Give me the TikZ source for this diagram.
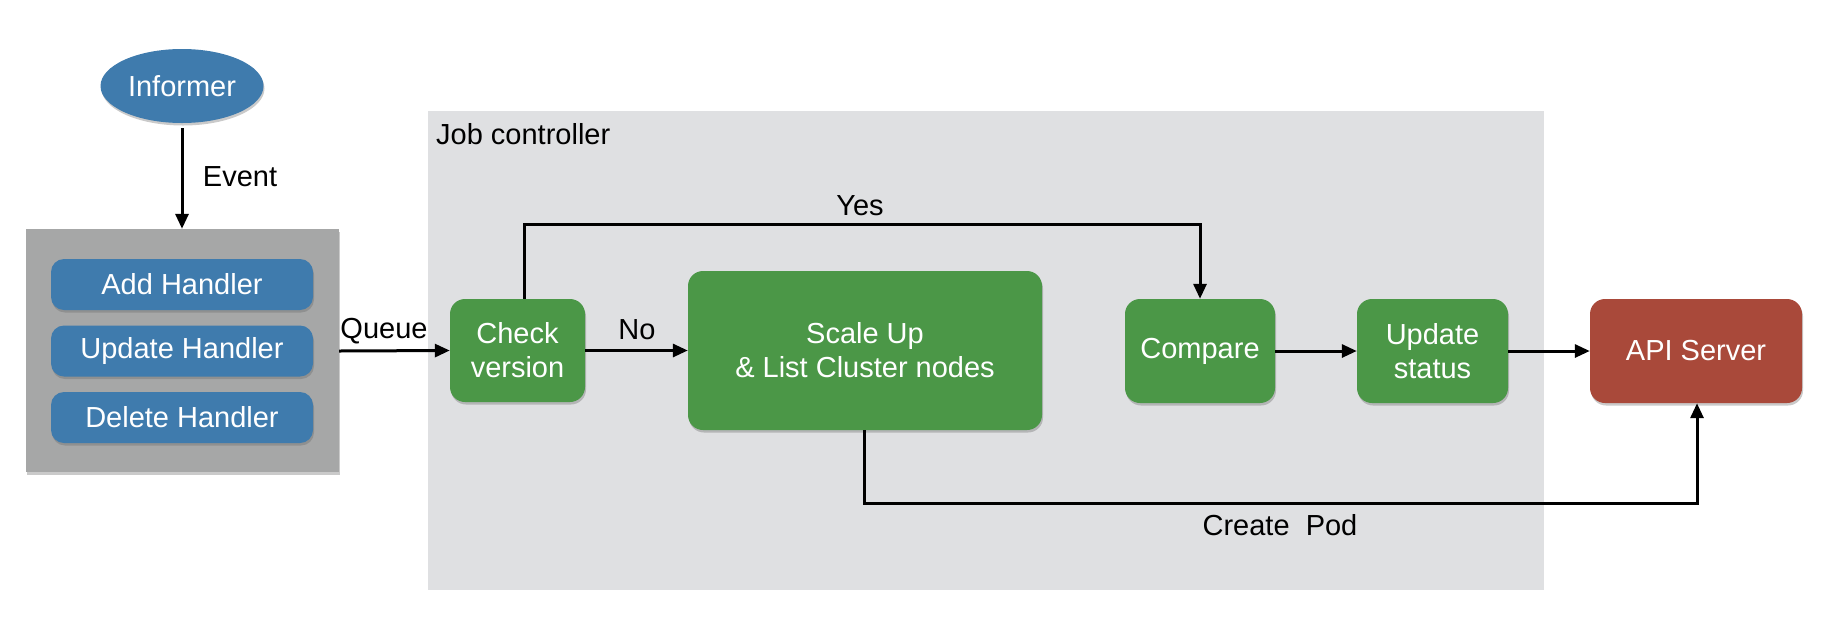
\documentclass[tikz,border=0pt]{standalone}
\usepackage{fontspec}
\setmainfont{Liberation Sans}
\usetikzlibrary{arrows.meta,shapes.geometric,shadows}
\definecolor{infblue}{HTML}{3F7BAD}
\definecolor{boxgreen}{HTML}{4B9747}
\definecolor{apired}{HTML}{A9493A}
\definecolor{outergray}{HTML}{A6A7A7}
\definecolor{jobgray}{HTML}{DFE0E2}
\tikzset{
  txt/.style={font=\fontsize{29}{34}\selectfont},
  shad/.style={drop shadow={shadow xshift=1pt,shadow yshift=-2.5pt,opacity=0.35,fill=black!60}},
  handler/.style={txt,draw=none,fill=infblue,text=white,rounded corners=13pt,minimum width=262pt,minimum height=51pt,inner sep=0pt,shad},
  greenbox/.style={txt,draw=none,fill=boxgreen,text=white,rounded corners=15pt,inner sep=0pt,align=center,shad},
  conn/.style={line width=3pt,-{Triangle[length=15pt,width=13pt]}},
  lab/.style={txt,text=black,inner sep=0pt},
}
\begin{document}
\begin{tikzpicture}[x=1pt,y=-1pt]
\useasboundingbox (0,0) rectangle (1822,622);
% job controller background
\node[fill=jobgray,draw=none,minimum width=1116pt,minimum height=479pt,inner sep=0pt,anchor=north west] (job) at (428,111) {};
\node[lab,anchor=west] (joblab) at (436,134) {Job controller};
% informer
\node[ellipse,txt,fill=infblue,text=white,minimum width=163pt,minimum height=74pt,inner sep=0pt,shad] (inf) at (182,86) {Informer};
% outer gray box
\node[fill=outergray,draw=none,minimum width=313pt,minimum height=243pt,inner sep=0pt,shad] (hbox) at (182.5,350.5) {};
\node[handler] (add) at (182,284.5) {Add Handler};
\node[handler] (upd) at (182,351) {Update Handler};
\node[handler] (del) at (182,417.5) {Delete Handler};
% green boxes
\node[greenbox,minimum width=135pt,minimum height=103pt] (check) at (517.5,350.5) {Check\\version};
\node[greenbox,minimum width=354pt,minimum height=159pt] (scale) at (865,350.5) {Scale Up\\\& List Cluster nodes};
\node[greenbox,minimum width=150pt,minimum height=104pt] (cmp) at (1200,351) {Compare};
\node[greenbox,minimum width=151pt,minimum height=104pt] (ust) at (1432.5,351) {Update\\status};
\node[greenbox,fill=apired,minimum width=212pt,minimum height=104pt] (api) at (1696,351) {API Server};
% coordinates for routing
\coordinate (yesl) at (524,224);
\coordinate (yesr) at (1200,224);
\coordinate (podl) at (864,503);
\coordinate (podr) at (1697,503);
% connectors
\draw[conn] (inf.south |- 0,128) -- (hbox.north -| inf.south);
\draw[conn] (hbox.east |- upd) -- (check.west);
\draw[conn] (check.east) -- (scale.west);
\draw[conn] (cmp.east) -- (ust.west);
\draw[conn] (ust.east) -- (api.west);
\draw[conn] (check.north -| yesl) -- (yesl) -- (yesr) -- (cmp.north);
\draw[conn] (scale.south -| podl) -- (podl) -- (podr) -- (api.south -| podr);
% labels
\node[lab] (evlab) at (240,177) {Event};
\node[lab] (qlab) at (384,331) {Queue};
\node[lab] (nolab) at (637,330) {No};
\node[lab] (yeslab) at (860,206) {Yes};
\node[lab] (podlab) at (1280,525) {Create\ \ Pod};
\end{tikzpicture}
\end{document}
